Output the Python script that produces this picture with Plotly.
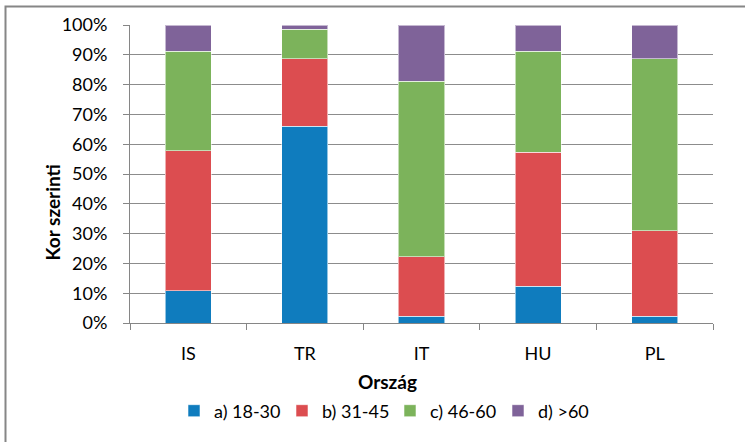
import plotly.graph_objects as go

countries = ["IS", "TR", "IT", "HU", "PL"]
series_names = ["a) 18-30", "b) 31-45", "c) 46-60", "d) >60"]
age_18_30 = [10.9, 66.0, 2.3, 12.4, 2.3]
age_31_45 = [46.9, 22.6, 20.0, 44.9, 28.7]
age_46_60 = [33.4, 10.0, 58.8, 33.9, 57.6]
age_60_plus = [8.8, 1.4, 18.9, 8.8, 11.4]
y_ticks = list(range(0, 101, 10))
y_tick_labels = [f"{v}%" for v in y_ticks]

colors = ["#0F7CBE", "#DC4D50", "#7CB35B", "#7F6399"]
FONT = "Lato"
FS = 18
FS_TITLE = 19

fig = go.Figure()
for name, vals, col in zip(series_names, [age_18_30, age_31_45, age_46_60, age_60_plus], colors):
    fig.add_trace(go.Bar(
        x=countries, y=vals, name=name,
        marker=dict(color=col, line=dict(color="rgba(255,255,255,0.55)", width=1)),
    ))

W, H = 745, 442
L, T = 130, 25
R = W - 713
B = H - 323
pw, ph = W - L - R, H - T - B

def px(x):
    return (x - L) / pw

def py(y):
    return (H - B - y) / ph

fig.update_layout(
    width=W, height=H,
    barmode="stack", bargap=0.605,
    margin=dict(l=L, r=R, t=T, b=B, autoexpand=False),
    paper_bgcolor="white", plot_bgcolor="white",
    font=dict(family=FONT, size=FS, color="#000000"),
    showlegend=True,
    legend=dict(
        orientation="h", x=px(390), xanchor="center", y=py(411), yanchor="middle",
        font=dict(family=FONT, size=FS),
        entrywidth=63, entrywidthmode="pixels", traceorder="normal",
        bgcolor="rgba(0,0,0,0)",
    ),
    xaxis=dict(
        type="category", showline=True, linecolor="#868686", linewidth=1,
        ticks="outside", tickson="boundaries", ticklen=6, tickcolor="#868686",
        showgrid=False, ticklabelstandoff=14, automargin=False,
        tickfont=dict(family=FONT, size=FS),
    ),
    yaxis=dict(
        range=[0, 100], tickvals=y_ticks, ticktext=y_tick_labels,
        showline=True, linecolor="#868686", linewidth=1,
        ticks="outside", ticklen=6, tickcolor="#868686",
        showgrid=True, gridcolor="#8C8C8C", gridwidth=1,
        zeroline=False, ticklabelstandoff=12, automargin=False,
        tickfont=dict(family=FONT, size=FS),
    ),
    annotations=[
        dict(text="<b>Ország</b>", xref="paper", yref="paper", x=px(387), y=py(382),
             showarrow=False, xanchor="center", yanchor="middle",
             font=dict(family=FONT, size=FS_TITLE)),
        dict(text="<b>Kor szerinti</b>", xref="paper", yref="paper", x=px(52), y=py(212.5),
             showarrow=False, xanchor="center", yanchor="middle", textangle=-90,
             font=dict(family=FONT, size=FS_TITLE)),
    ],
    shapes=[
        dict(type="rect", xref="paper", yref="paper",
             x0=px(5.5), x1=px(770), y0=py(470), y1=py(6.5),
             line=dict(color="#868686", width=2), fillcolor="rgba(0,0,0,0)", layer="below"),
    ],
)

fig.write_html(
    "out.html",
    config={"displayModeBar": False},
    post_script="document.body.style.margin='0';document.body.style.overflow='hidden';",
)
